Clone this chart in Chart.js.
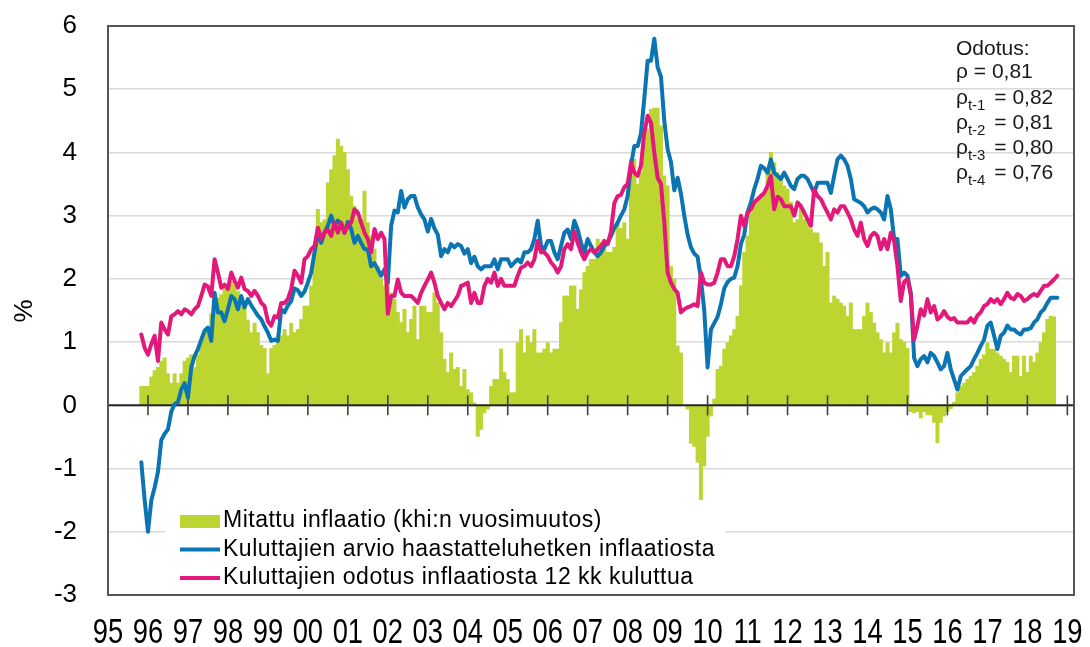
<!DOCTYPE html>
<html><head><meta charset="utf-8">
<script src="https://cdn.jsdelivr.net/npm/chart.js@4.4.1/dist/chart.umd.min.js"></script>
<style>html,body{margin:0;padding:0;background:#fff}#wrap{width:1090px;height:647px}</style>
</head><body><div id="wrap"><canvas id="c" width="1090" height="647"></canvas></div>
<script>
// ---- data (monthly, first value = Nov 1995) ----
const axisStartYear = 1995;
const axisMonths = 291;          // Jan 1995 .. Mar 2019
const firstDataMonth = 10;       // index of Nov 1995
const yearLabels = ['95','96','97','98','99','00','01','02','03','04','05','06','07','08','09','10','11','12','13','14','15','16','17','18','19'];
const seriesNames = ['Mitattu inflaatio (khi:n vuosimuutos)','Kuluttajien arvio haastatteluhetken inflaatiosta','Kuluttajien odotus inflaatiosta 12 kk kuluttua'];
const noteTitle = 'Odotus:';
const noteRows = [['', '0,81'], ['t-1', '0,82'], ['t-2', '0,81'], ['t-3', '0,80'], ['t-4', '0,76']];

const measured = [
 0.3,0.3,
 0.3,0.45,0.55,0.6,0.7,0.75,0.5,0.35,0.5,0.35,0.5,0.7,
 0.75,0.8,0.6,0.8,1.0,1.15,1.2,1.45,1.55,1.7,1.75,1.85,
 1.9,1.95,1.9,1.8,1.7,1.6,1.35,1.15,1.3,1.15,0.95,0.9,
 0.5,0.9,0.95,1.1,1.1,1.2,1.1,1.3,1.15,1.2,1.36,1.57,
 1.57,1.89,2.42,3.1,2.89,2.94,3.52,3.73,3.95,4.21,4.1,4.0,
 3.73,3.31,3.15,2.94,2.94,3.39,2.89,2.68,2.47,2.2,2.0,1.89,
 2.1,1.78,1.68,1.47,1.31,1.52,1.15,1.36,1.57,1.04,1.57,1.57,
 1.47,1.47,1.78,1.62,1.15,0.73,0.52,0.83,0.57,0.6,0.3,0.57,
 0.25,0.2,0.04,-0.49,-0.38,-0.12,-0.06,0.3,0.41,0.41,0.89,0.52,
 0.41,0.2,0.2,0.99,1.2,0.83,1.1,0.99,1.2,0.83,0.83,0.89,
 0.99,0.83,0.89,0.89,1.31,1.73,1.73,1.89,1.89,1.52,1.83,2.1,
 2.2,2.31,2.31,2.63,2.57,2.57,2.42,2.42,2.5,2.9,2.8,2.89,
 2.63,3.89,3.89,3.5,3.68,4.16,4.37,4.68,4.7,4.7,4.42,3.63,
 3.47,2.2,2.0,0.94,0.83,0.0,-0.06,-0.6,-0.65,-0.9,-1.49,-0.96,
 -0.49,-0.17,0.1,0.57,0.62,0.89,0.99,1.1,1.2,1.41,1.89,2.42,
 2.68,3.05,3.2,3.26,3.3,3.36,3.68,4.0,3.84,3.68,3.58,3.47,
 3.42,3.21,2.89,2.94,3.15,2.94,2.89,2.79,2.73,2.73,2.57,2.2,
 2.42,1.62,1.73,1.68,1.62,1.57,1.41,1.62,1.2,1.2,1.2,1.41,
 1.62,1.47,1.3,1.15,1.04,0.83,0.99,0.83,1.15,1.3,1.04,1.0,
 0.9,-0.1,-0.12,-0.1,-0.2,-0.1,-0.15,-0.15,-0.27,-0.59,-0.27,-0.17,
 -0.1,-0.05,0.05,0.2,0.3,0.35,0.41,0.46,0.52,0.62,0.73,0.8,
 0.99,0.89,0.89,0.83,0.78,0.73,0.68,0.52,0.78,0.78,0.46,0.78,
 0.52,0.78,0.68,0.83,0.99,1.15,1.36,1.41,1.4
];
const perceived = [
 -0.9,-1.5,
 -2.0,-1.5,-1.3,-1.05,-0.55,-0.45,-0.38,-0.1,0.02,0.05,0.25,0.35,
 0.12,0.6,0.78,0.89,1.04,1.18,1.23,1.02,1.78,1.47,1.47,1.33,
 1.52,1.73,1.68,1.52,1.73,1.55,1.68,1.58,1.5,1.42,1.36,1.25,
 1.15,1.02,1.04,1.02,1.52,1.47,1.58,1.65,1.85,1.82,1.73,1.8,
 1.94,2.1,2.42,2.73,2.57,2.73,2.84,3.0,2.84,2.92,2.87,2.73,
 2.9,2.79,2.57,2.68,2.57,2.47,2.47,2.2,2.25,2.15,2.05,2.15,
 1.94,2.84,3.08,3.05,3.39,3.13,3.26,3.31,3.31,3.13,3.02,2.94,
 2.75,2.95,2.8,2.7,2.36,2.47,2.42,2.55,2.5,2.55,2.52,2.4,
 2.47,2.25,2.35,2.2,2.15,2.2,2.2,2.2,2.31,2.15,2.31,2.31,
 2.31,2.2,2.26,2.31,2.26,2.42,2.42,2.47,2.63,2.92,2.52,2.47,
 2.6,2.6,2.42,2.31,2.52,2.73,2.78,2.63,2.92,2.78,2.57,2.42,
 2.63,2.52,2.42,2.36,2.42,2.52,2.57,2.68,2.8,2.89,3.0,3.1,
 3.31,3.79,4.1,4.1,4.3,4.85,5.45,5.45,5.8,5.35,5.2,4.5,
 4.05,3.85,3.4,3.6,3.35,3.0,2.7,2.5,2.4,2.35,2.0,1.5,
 0.6,1.2,1.3,1.4,1.6,1.85,1.95,2.0,2.02,2.2,2.55,2.7,
 3.05,3.21,3.42,3.58,3.79,3.75,3.68,3.89,3.68,3.63,3.58,3.68,
 3.58,3.47,3.42,3.58,3.63,3.63,3.58,3.47,3.36,3.52,3.52,3.52,
 3.52,3.36,3.63,3.89,3.95,3.89,3.79,3.58,3.26,3.23,3.2,3.15,
 3.05,3.1,3.13,3.1,3.05,2.94,3.31,3.1,2.63,2.63,2.05,2.1,
 2.05,1.78,0.75,0.62,0.73,0.78,0.68,0.83,0.78,0.68,0.57,0.62,
 0.83,0.57,0.41,0.25,0.46,0.52,0.57,0.62,0.73,0.83,0.94,1.04,
 1.26,1.31,1.1,0.89,1.1,1.15,1.26,1.2,1.2,1.15,1.12,1.2,
 1.2,1.22,1.31,1.36,1.47,1.52,1.62,1.7,1.7,1.7
];
const expected = [
 1.12,0.91,
 0.8,0.97,1.1,0.7,1.31,1.2,1.12,1.41,1.44,1.49,1.44,1.52,
 1.49,1.44,1.52,1.57,1.73,1.91,1.88,1.73,2.31,2.1,1.86,1.91,
 1.84,2.1,1.97,1.86,2.02,1.84,1.81,1.73,1.81,1.73,1.62,1.57,
 1.33,1.26,1.41,1.39,1.62,1.62,1.68,1.84,2.13,2.05,1.94,2.31,
 2.36,2.47,2.52,2.81,2.63,2.73,2.78,2.68,2.89,2.73,2.89,2.73,
 2.84,2.89,3.1,3.05,2.89,2.73,2.63,2.42,2.79,2.63,2.73,2.63,
 1.45,1.73,1.73,1.99,1.78,1.73,1.73,1.73,1.68,1.62,1.78,1.89,
 1.99,2.1,1.94,1.73,1.62,1.52,1.62,1.57,1.65,1.73,1.89,1.91,
 1.94,1.62,1.78,1.62,1.62,1.89,2.0,1.94,2.1,1.89,2.0,1.89,
 1.89,1.89,1.89,2.05,2.18,2.2,2.26,2.2,2.31,2.6,2.42,2.42,
 2.36,2.26,2.2,2.1,2.2,2.47,2.55,2.47,2.75,2.57,2.42,2.31,
 2.42,2.47,2.42,2.47,2.52,2.6,2.55,2.75,3.2,3.31,3.33,3.45,
 3.5,3.84,3.68,3.63,3.79,4.31,4.58,4.47,4.0,3.6,3.5,2.9,
 2.1,1.94,1.84,1.78,1.47,1.52,1.55,1.57,1.6,1.57,2.1,1.94,
 1.91,1.91,1.94,2.1,2.31,2.31,2.2,2.2,2.36,2.63,3.0,2.84,
 3.05,3.1,3.21,3.26,3.31,3.36,3.47,3.63,3.1,3.3,3.26,3.15,
 3.15,3.15,3.0,3.21,3.15,3.05,2.94,2.84,3.42,3.31,3.26,3.15,
 3.05,2.94,3.1,3.05,3.15,3.15,3.05,2.94,2.78,2.68,2.89,2.63,
 2.52,2.68,2.73,2.68,2.47,2.63,2.47,2.73,2.6,2.2,1.65,1.95,
 2.0,1.75,1.04,1.26,1.52,1.42,1.68,1.47,1.57,1.36,1.4,1.49,
 1.4,1.36,1.38,1.31,1.31,1.31,1.31,1.38,1.31,1.42,1.47,1.57,
 1.6,1.68,1.63,1.68,1.6,1.68,1.78,1.7,1.68,1.76,1.73,1.65,
 1.68,1.73,1.76,1.73,1.81,1.89,1.89,1.94,1.99,2.05
];

// ---- styling ----
const FONT = '"Liberation Sans", Arial, "DejaVu Sans", sans-serif';
const GREEN = '#BDD530', BLUE = '#0B74B2', PINK = '#E2187A';

const monthLabels = [];
for (let i = 0; i < axisMonths; i++) {
  const yr = axisStartYear + Math.floor(i / 12), mo = (i % 12) + 1;
  monthLabels.push(yr + '-' + String(mo).padStart(2, '0'));
}
const pad = arr => Array(firstDataMonth).fill(null).concat(arr);

const overlay = {
  id: 'overlay',
  afterDatasetDraw(chart, args) {
    if (args.index !== 0) return;
    const { ctx, chartArea: a, scales: { x, y } } = chart;
    const y0 = y.getPixelForValue(0);
    ctx.save();
    ctx.strokeStyle = '#262626'; ctx.lineWidth = 2;
    ctx.beginPath(); ctx.moveTo(a.left, y0); ctx.lineTo(a.right, y0); ctx.stroke();
    ctx.strokeStyle = '#404040'; ctx.lineWidth = 1.6;
    for (let i = 0; i < yearLabels.length; i++) {
      const px = x.getPixelForValue(i * 12);
      ctx.beginPath(); ctx.moveTo(px, y0 - 10); ctx.lineTo(px, y0 + 10); ctx.stroke();
    }
    ctx.restore();
  },
  afterDraw(chart) {
    const { ctx, chartArea: a, scales: { x } } = chart;
    ctx.save();
    // frame
    ctx.strokeStyle = '#555'; ctx.lineWidth = 2;
    ctx.strokeRect(a.left, a.top, a.right - a.left, a.bottom - a.top);
    // legend box
    ctx.fillStyle = '#fff';
    ctx.fillRect(165, 503, 560, 90);
    const ds = chart.data.datasets;
    ctx.fillStyle = ds[0].backgroundColor; ctx.fillRect(180, 515, 40, 13);
    ctx.lineWidth = 4;
    ctx.strokeStyle = ds[1].borderColor; ctx.beginPath(); ctx.moveTo(180, 549.5); ctx.lineTo(220, 549.5); ctx.stroke();
    ctx.strokeStyle = ds[2].borderColor; ctx.beginPath(); ctx.moveTo(180, 578); ctx.lineTo(220, 578); ctx.stroke();
    ctx.fillStyle = '#000';
    ctx.font = '23px ' + FONT;
    try { ctx.letterSpacing = '0.5px'; } catch (e) {}
    ctx.textBaseline = 'middle'; ctx.textAlign = 'left';
    [521, 549.5, 578].forEach((yy, i) => ctx.fillText(ds[i].label, 223, yy));
    try { ctx.letterSpacing = '0px'; } catch (e) {}
    // annotation
    ctx.fillStyle = '#1a1a1a';
    ctx.textBaseline = 'alphabetic';
    ctx.font = '21px ' + FONT;
    ctx.fillText(noteTitle, 956, 55);
    const bases = [78, 104, 129, 154, 179];
    noteRows.forEach((r, i) => {
      let xx = 956;
      ctx.font = '21px ' + FONT;
      ctx.fillText('\u03C1', xx, bases[i]);
      xx += ctx.measureText('\u03C1').width;
      if (r[0]) {
        ctx.font = '15px ' + FONT;
        ctx.fillText(r[0], xx, bases[i] + 6);
        xx += ctx.measureText(r[0]).width + 3;
      }
      ctx.font = '21px ' + FONT;
      ctx.fillText(' = ' + r[1], xx, bases[i]);
    });
    // x labels (condensed)
    ctx.fillStyle = '#000';
    ctx.font = '35px ' + FONT;
    ctx.textAlign = 'center'; ctx.textBaseline = 'alphabetic';
    yearLabels.forEach((lab, i) => {
      const px = x.getPixelForValue(i * 12);
      ctx.save(); ctx.translate(px, 643); ctx.scale(0.78, 1);
      ctx.fillText(lab, 0, 0); ctx.restore();
    });
    // y title
    ctx.save();
    ctx.translate(25, 311); ctx.rotate(-Math.PI / 2);
    ctx.font = '26px ' + FONT; ctx.textAlign = 'center'; ctx.textBaseline = 'middle';
    ctx.fillText('%', 0, 0);
    ctx.restore();
    ctx.restore();
  }
};

new Chart(document.getElementById('c').getContext('2d'), {
  type: 'bar',
  data: {
    labels: monthLabels,
    datasets: [
      { type: 'bar', label: seriesNames[0], data: pad(measured), backgroundColor: GREEN, borderWidth: 0,
        barPercentage: 1, categoryPercentage: 1, order: 3 },
      { type: 'line', label: seriesNames[1], data: pad(perceived), borderColor: BLUE, backgroundColor: BLUE,
        borderWidth: 4, pointRadius: 0, tension: 0, borderJoinStyle: 'round', borderCapStyle: 'round', order: 2 },
      { type: 'line', label: seriesNames[2], data: pad(expected), borderColor: PINK, backgroundColor: PINK,
        borderWidth: 4, pointRadius: 0, tension: 0, borderJoinStyle: 'round', borderCapStyle: 'round', order: 1 }
    ]
  },
  options: {
    responsive: false,
    animation: false,
    layout: { padding: { top: 26, right: 16, left: 0, bottom: 0 } },
    plugins: { legend: { display: false }, tooltip: { enabled: false } },
    scales: {
      x: {
        type: 'category', offset: false,
        grid: { display: false, drawTicks: false },
        border: { display: false },
        ticks: { display: false },
        afterFit(s) { s.height = 52; s.paddingLeft = 0; s.paddingRight = 0; }
      },
      y: {
        min: -3, max: 6,
        ticks: { stepSize: 1, color: '#000', font: { family: FONT, size: 26 }, padding: 31 },
        grid: { color: '#d9d9d9', lineWidth: 1.5, drawTicks: false },
        border: { display: false },
        afterFit(s) { s.width = 108; s.paddingTop = 0; s.paddingBottom = 0; }
      }
    }
  },
  plugins: [overlay]
});
</script>
</body></html>
